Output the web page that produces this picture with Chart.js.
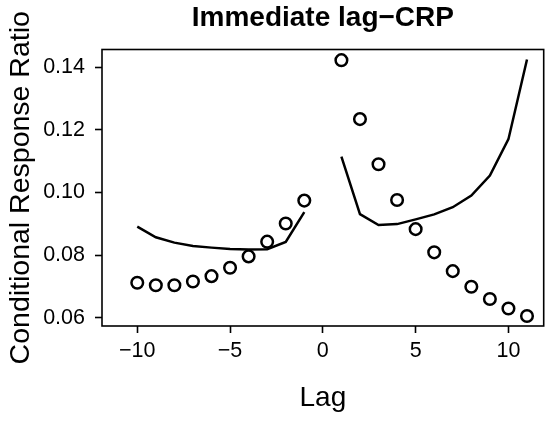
<!DOCTYPE html>
<html>
<head>
<meta charset="utf-8">
<script src="https://cdn.jsdelivr.net/npm/chart.js@4/dist/chart.umd.min.js"></script>
<style>
html, body { margin: 0; padding: 0; overflow: hidden; background: #ffffff; }
canvas { display: block; }
</style>
</head>
<body>
<canvas id="c" width="552" height="424"></canvas>
<script>
// ---- data ----
const lags = [-10, -9, -8, -7, -6, -5, -4, -3, -2, -1, 1, 2, 3, 4, 5, 6, 7, 8, 9, 10, 11];
const observedCRP = [0.0712, 0.0704, 0.0704, 0.0716, 0.0733, 0.0760, 0.0796, 0.0843, 0.0901, 0.0974,
                     0.1422, 0.1234, 0.1090, 0.0976, 0.0883, 0.0809, 0.0749, 0.0699, 0.0660, 0.0630, 0.0606];
const backwardLags = [-10, -9, -8, -7, -6, -5, -4, -3, -2, -1];
const modelBackward = [0.0891, 0.0857, 0.0840, 0.0829, 0.0824, 0.0820, 0.0818, 0.0819, 0.0842, 0.0937];
const forwardLags = [1, 2, 3, 4, 5, 6, 7, 8, 9, 10, 11];
const modelForward = [0.1114, 0.0931, 0.0896, 0.0899, 0.0914, 0.0930, 0.0953, 0.0990, 0.1054, 0.1170, 0.1424];
const xTicks = [-10, -5, 0, 5, 10];
const xTickLabels = ['\u221210', '\u22125', '0', '5', '10'];
const yTicks = [0.06, 0.08, 0.10, 0.12, 0.14];
const yTickLabels = ['0.06', '0.08', '0.10', '0.12', '0.14'];
const titleText = 'Immediate lag\u2212CRP';
const xTitle = 'Lag';
const yTitle = 'Conditional Response Ratio';

const FONT = "'Liberation Sans', Arial, Helvetica, sans-serif";

const pts = (xs, ys) => xs.map((x, i) => ({ x: x, y: ys[i] }));

const boxPlugin = {
  id: 'box',
  afterDraw(chart) {
    const a = chart.chartArea, ctx = chart.ctx;
    ctx.save();
    ctx.strokeStyle = '#000';
    ctx.lineWidth = 1.6;
    ctx.strokeRect(a.left, a.top, a.right - a.left, a.bottom - a.top);
    ctx.restore();
  }
};

new Chart(document.getElementById('c'), {
  type: 'scatter',
  data: {
    datasets: [
      {
        label: 'observed',
        data: pts(lags, observedCRP),
        showLine: false,
        pointStyle: 'circle',
        pointRadius: 5.8,
        pointBorderWidth: 2.5,
        borderColor: '#000',
        pointBorderColor: '#000',
        backgroundColor: 'rgba(0,0,0,0)',
        pointBackgroundColor: 'rgba(0,0,0,0)'
      },
      {
        label: 'model backward',
        data: pts(backwardLags, modelBackward),
        showLine: true,
        pointRadius: 0,
        borderColor: '#000',
        borderWidth: 2.5,
        tension: 0
      },
      {
        label: 'model forward',
        data: pts(forwardLags, modelForward),
        showLine: true,
        pointRadius: 0,
        borderColor: '#000',
        borderWidth: 2.5,
        tension: 0
      }
    ]
  },
  options: {
    responsive: false,
    animation: false,
    devicePixelRatio: 1,
    layout: { padding: 0 },
    plugins: {
      legend: { display: false },
      tooltip: { enabled: false },
      title: {
        display: true,
        text: titleText,
        fullSize: false,
        color: '#000',
        font: { family: FONT, size: 28, weight: 'bold', lineHeight: 1.2 },
        padding: { top: 1.2, bottom: 14.7 }
      }
    },
    scales: {
      x: {
        type: 'linear',
        min: -11.9,
        max: 11.9,
        afterBuildTicks: (s) => { s.ticks = xTicks.map(v => ({ value: v })); },
        afterFit: (s) => { s.height = 98; },
        border: { display: false },
        grid: { display: true, drawOnChartArea: false, drawTicks: true, tickLength: 7, tickWidth: 1.6, tickColor: '#000', color: '#000' },
        ticks: {
          autoSkip: false, maxRotation: 0, minRotation: 0, padding: 5, color: '#000',
          font: { family: FONT, size: 21.5 },
          callback: (v) => xTickLabels[xTicks.indexOf(v)]
        },
        title: {
          display: true, text: xTitle, color: '#000',
          font: { family: FONT, size: 28, lineHeight: 1.2 },
          padding: { top: 0, bottom: 9.2 }
        }
      },
      y: {
        type: 'linear',
        min: 0.0574,
        max: 0.1456,
        afterBuildTicks: (s) => { s.ticks = yTicks.map(v => ({ value: v })); },
        afterFit: (s) => { s.width = 102; },
        border: { display: false },
        grid: { display: true, drawOnChartArea: false, drawTicks: true, tickLength: 7, tickWidth: 1.6, tickColor: '#000', color: '#000' },
        ticks: {
          autoSkip: false, padding: 10, color: '#000',
          font: { family: FONT, size: 21.5 },
          callback: (v) => yTickLabels[yTicks.findIndex(t => Math.abs(t - v) < 1e-9)]
        },
        title: {
          display: true, text: yTitle, color: '#000',
          font: { family: FONT, size: 28.5, lineHeight: 1.2 },
          padding: { top: 4.4, bottom: 0 }
        }
      }
    }
  },
  plugins: [boxPlugin]
});
</script>
</body>
</html>
